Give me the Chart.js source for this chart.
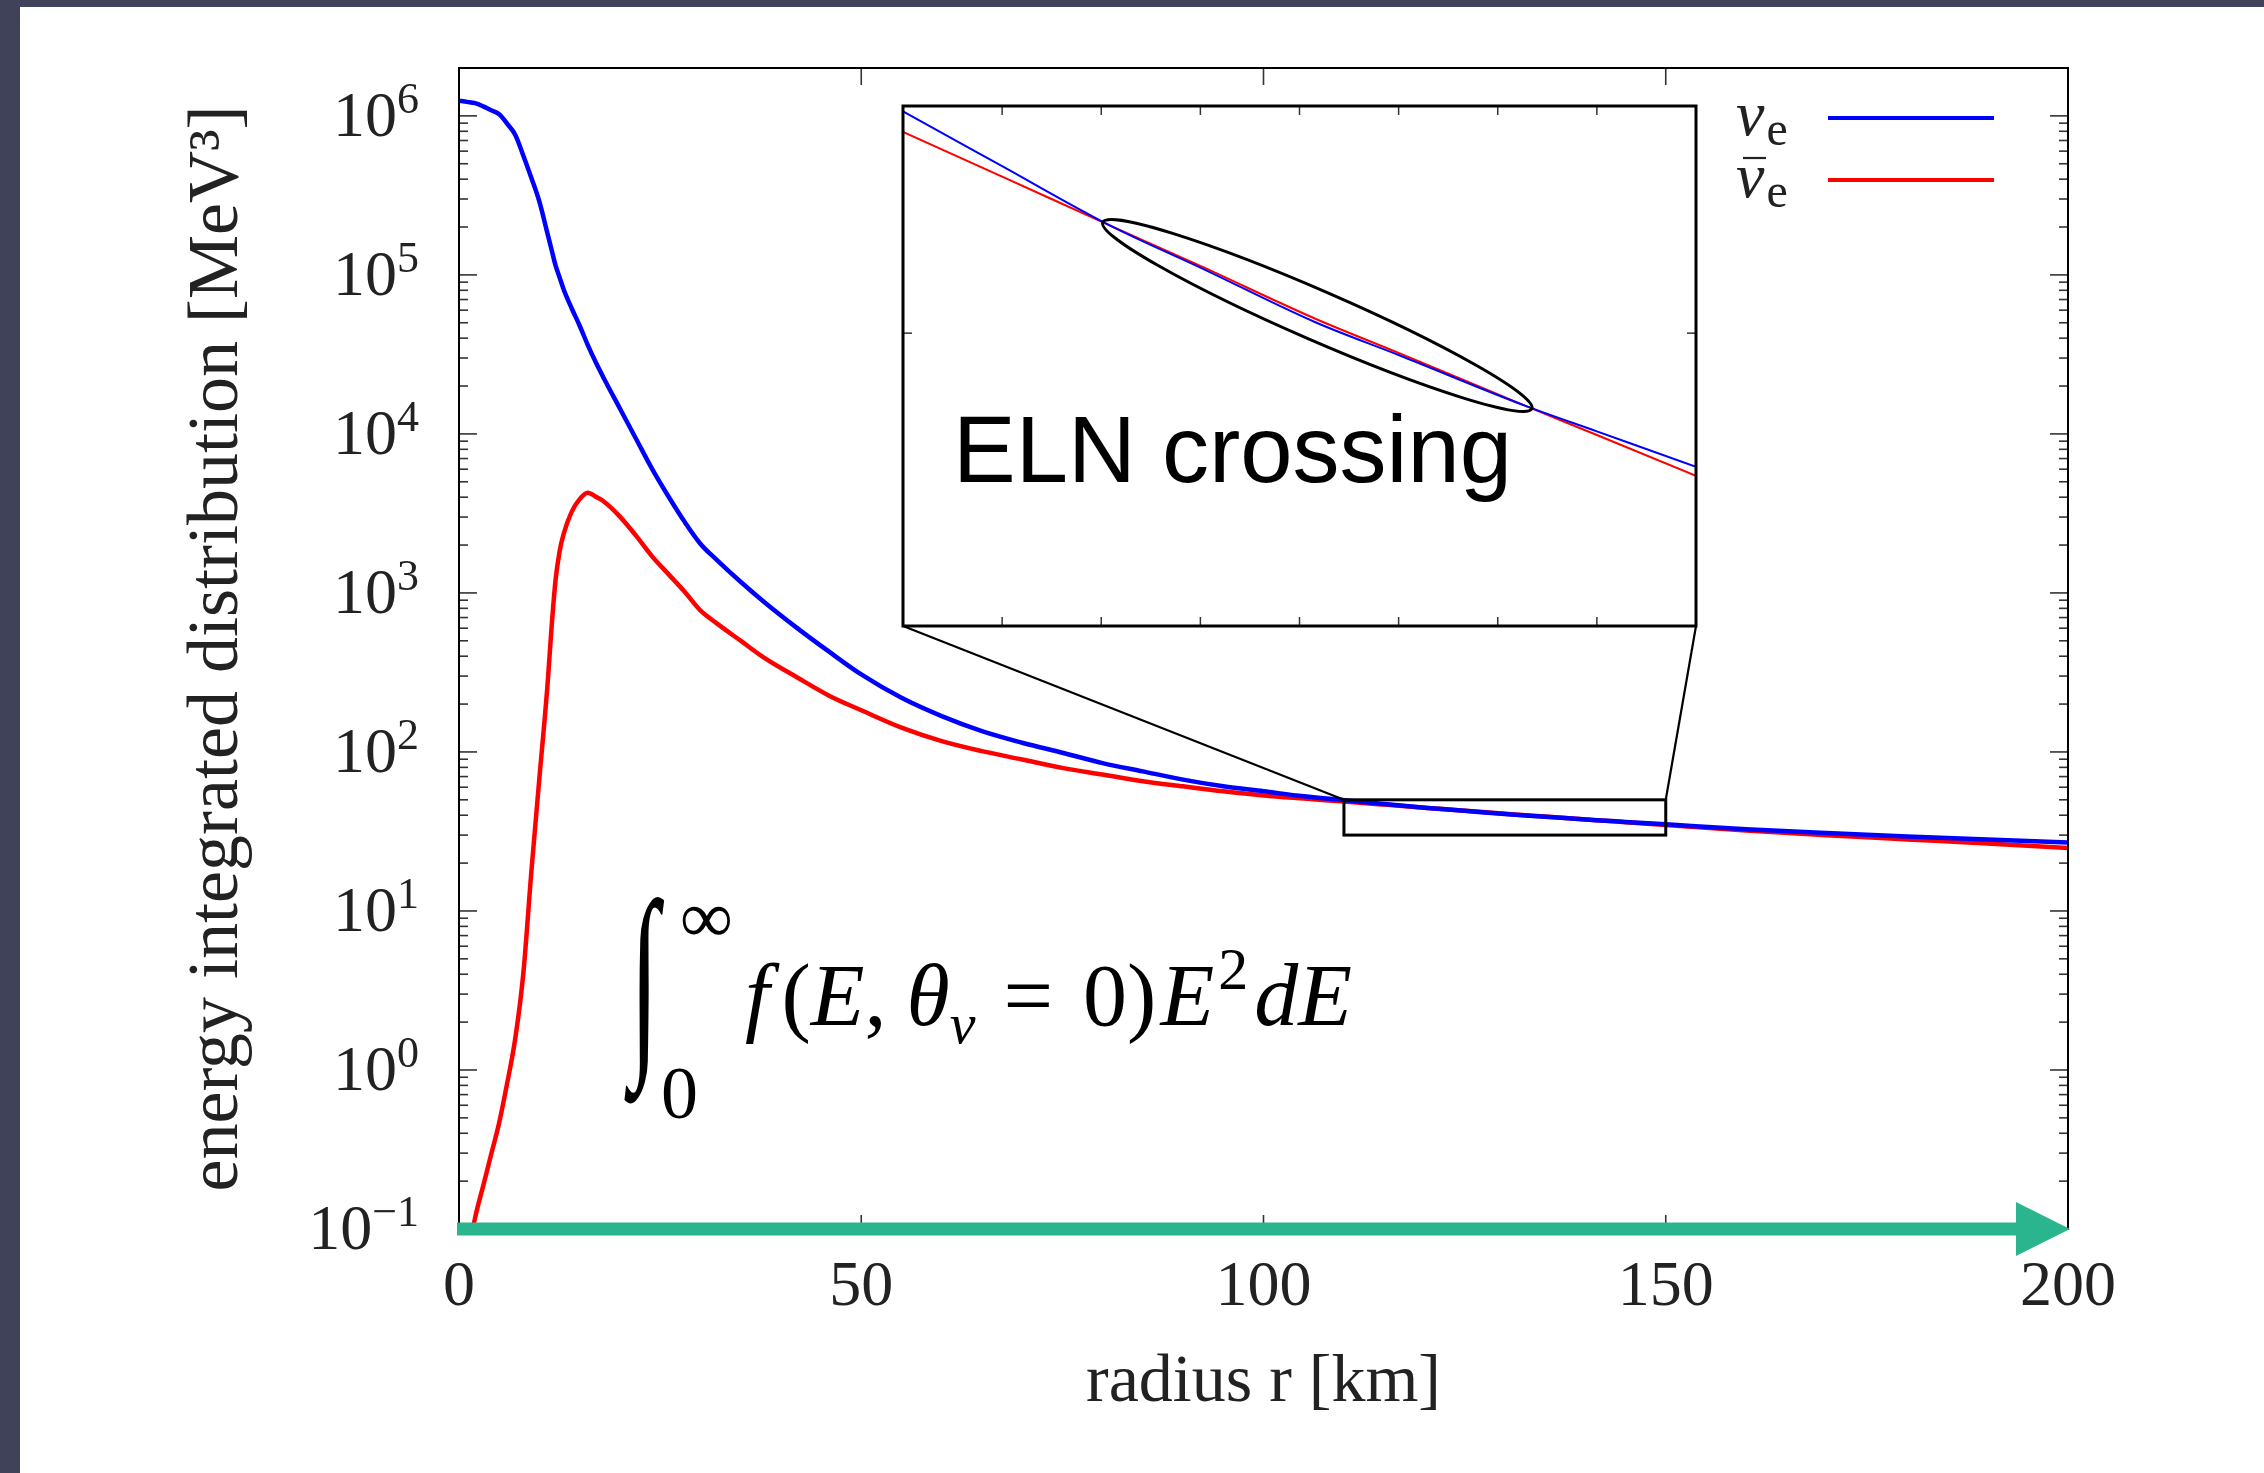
<!DOCTYPE html>
<html>
<head>
<meta charset="utf-8">
<title>energy integrated distribution</title>
<script src="https://cdn.jsdelivr.net/npm/chart.js@4.4.1/dist/chart.umd.min.js"></script>
<style>
  html, body { margin: 0; padding: 0; }
  body { width: 2264px; height: 1473px; overflow: hidden; background: #3f4258; position: relative; }
  #sheet { position: absolute; left: 20px; top: 7px; right: 0; bottom: 0; background: #fff; }
  #mainChart { position: absolute; left: 0; top: 0; }
  #insetChart { position: absolute; left: 893px; top: 96px; }
</style>
</head>
<body>
<div id="sheet"></div>
<canvas id="mainChart" width="2264" height="1473"></canvas>
<canvas id="insetChart" width="813" height="540"></canvas>
<script>
(function () {
  "use strict";

  // radius r [km]
  const radius = [0, 1, 2, 3, 4, 5, 6, 7, 8, 9, 10, 11, 11.5, 12, 12.5, 13, 14, 15, 16, 17, 18,
    20, 22, 24, 26, 28, 30, 32, 35, 38, 42, 46, 50, 55, 60, 65, 70, 75, 80, 85, 90, 95, 100, 105,
    110, 115, 120.4, 125, 130.8, 135, 141.4, 145, 150, 160, 170, 180, 190, 200];

  // nu_e, MeV^3
  const nuE = [1.245e6, 1.225e6, 1.202e6, 1.148e6, 1.084e6, 1.023e6, 8.91e5, 7.59e5, 5.62e5, 4.07e5,
    2.88e5, 1.82e5, 1.445e5, 1.148e5, 9.66e4, 8.13e4, 6.17e4, 4.79e4, 3.63e4, 2.82e4, 2.24e4,
    1.445e4, 9330, 6030, 4070, 2820, 2040, 1620, 1175, 871, 603, 427, 307, 219, 168, 135.2, 114.3,
    98.9, 85.1, 75.5, 67.0, 60.8, 56.6, 52.6,
    49.74, 47.13, 44.48, 42.66, 40.43, 39.15, 37.24, 36.32, 35.08, 32.66, 30.90, 29.44, 28.12, 26.92];

  // anti nu_e, MeV^3
  const nuEBar = [0.02, 0.063, 0.1175, 0.186, 0.295, 0.468, 0.832, 1.585, 4.07, 17.8,
    69.2, 263, 603, 1202, 1820, 2344, 3236, 3890, 4266, 4027, 3758,
    3020, 2291, 1698, 1318, 1023, 776, 646, 501, 389, 295, 226, 183, 142.2, 117.0, 101.2, 89.7,
    79.4, 72.1, 65.5, 60.8, 56.6, 53.3, 50.9,
    48.74, 46.65, 44.48, 42.73, 40.57, 39.23, 37.24, 36.19, 34.77, 32.06, 29.92, 28.18, 26.55, 24.89];

  const seriesLabels = ["\u03BD\u2091", "\u03BD\u0304\u2091"];
  const seriesColors = ["#0000ff", "#ff0000"];

  const xTickValues = [0, 50, 100, 150, 200];
  const yTickValues = [0.1, 1, 10, 100, 1000, 1e4, 1e5, 1e6];
  const yTickExponents = ["\u22121", "0", "1", "2", "3", "4", "5", "6"];

  const insetXTicks = [110, 115, 120, 125, 130, 135, 140, 145, 150];
  const insetYTicks = [30, 40, 50];

  const xRange = [0, 200];
  const yRange = [0.1, 2e6];
  const zoomX = [110, 150];
  const zoomY = [30, 50];

  const SERIF = "'Liberation Serif', 'DejaVu Serif', serif";
  const INK = "#222";
  const ARROW = "#2bb58f";
  const AREA = {left: 459, top: 68, right: 2068, bottom: 1229};

  Chart.defaults.font.family = SERIF;
  Chart.defaults.color = INK;

  function points(values) {
    return radius.map((r, i) => ({x: r, y: values[i]}));
  }

  function datasets(width) {
    return [nuE, nuEBar].map((values, i) => ({
      label: seriesLabels[i],
      data: points(values),
      borderColor: seriesColors[i],
      backgroundColor: seriesColors[i],
      borderWidth: width,
      pointRadius: 0,
      cubicInterpolationMode: "monotone",
    }));
  }

  function tick(ctx, x1, y1, x2, y2) {
    ctx.beginPath();
    ctx.moveTo(x1, y1);
    ctx.lineTo(x2, y2);
    ctx.stroke();
  }

  function drawRuns(ctx, runs, x, baseline) {
    runs.forEach((run) => {
      ctx.font = run.font;
      ctx.fillText(run.t, x + (run.dx || 0), baseline + (run.dy || 0));
      x += ctx.measureText(run.t).width + (run.dx || 0) + (run.after || 0);
    });
    return x;
  }

  // ---- inset ----
  const insetDecor = {
    id: "insetDecor",
    beforeDraw(chart) {
      const {ctx, chartArea: a} = chart;
      ctx.save();
      ctx.fillStyle = "#fff";
      ctx.fillRect(a.left, a.top, a.right - a.left, a.bottom - a.top);
      ctx.restore();
    },
    afterDraw(chart) {
      const {ctx, chartArea: a, scales: {x, y}} = chart;
      ctx.save();
      ctx.strokeStyle = "#333";
      ctx.lineWidth = 1.5;
      insetXTicks.slice(1, -1).forEach((v) => {
        const px = x.getPixelForValue(v);
        tick(ctx, px, a.bottom, px, a.bottom - 9);
        tick(ctx, px, a.top, px, a.top + 9);
      });
      insetYTicks.slice(1, -1).forEach((v) => {
        const py = y.getPixelForValue(v);
        tick(ctx, a.left, py, a.left + 9, py);
        tick(ctx, a.right, py, a.right - 9, py);
      });

      ctx.strokeStyle = "#000";
      ctx.lineWidth = 3;
      ctx.strokeRect(a.left, a.top, a.right - a.left, a.bottom - a.top);

      // ellipse round the two crossings
      const cross = [];
      radius.forEach((r, i) => {
        if (r > zoomX[0] && r < zoomX[1] && nuE[i] === nuEBar[i]) {
          cross.push({x: x.getPixelForValue(r), y: y.getPixelForValue(nuE[i])});
        }
      });
      if (cross.length === 2) {
        const cx = (cross[0].x + cross[1].x) / 2;
        const cy = (cross[0].y + cross[1].y) / 2;
        const half = Math.hypot(cross[1].x - cross[0].x, cross[1].y - cross[0].y) / 2;
        const ang = Math.atan2(cross[1].y - cross[0].y, cross[1].x - cross[0].x);
        ctx.lineWidth = 3;
        ctx.beginPath();
        ctx.ellipse(cx, cy, half + 7, 25, ang, 0, Math.PI * 2);
        ctx.stroke();
      }

      ctx.fillStyle = "#000";
      ctx.font = "94px 'Liberation Sans', Arial, sans-serif";
      ctx.textBaseline = "alphabetic";
      ctx.fillText("ELN crossing", a.left + 50, a.top + 376);
      ctx.restore();
    },
  };

  const insetChart = new Chart(document.getElementById("insetChart"), {
    type: "line",
    data: {datasets: datasets(2)},
    options: {
      responsive: false,
      animation: false,
      events: [],
      layout: {padding: 10},
      plugins: {legend: {display: false}, tooltip: {enabled: false}},
      scales: {
        x: {type: "linear", min: zoomX[0], max: zoomX[1], display: false},
        y: {type: "logarithmic", min: zoomY[0], max: zoomY[1], display: false},
      },
    },
    plugins: [insetDecor],
  });

  // ---- main ----
  const mainDecor = {
    id: "mainDecor",
    afterDraw(chart) {
      const {ctx, chartArea: a, scales: {x, y}} = chart;
      ctx.save();

      // ticks on all four sides
      ctx.strokeStyle = "#333";
      ctx.lineWidth = 1.6;
      yTickValues.forEach((v) => {
        const py = y.getPixelForValue(v);
        tick(ctx, a.left, py, a.left + 18, py);
        tick(ctx, a.right, py, a.right - 18, py);
        for (let m = 2; m <= 9; m++) {
          const mv = v * m;
          if (mv >= y.max) break;
          const pm = y.getPixelForValue(mv);
          tick(ctx, a.left, pm, a.left + 9, pm);
          tick(ctx, a.right, pm, a.right - 9, pm);
        }
      });
      xTickValues.slice(1, -1).forEach((v) => {
        const px = x.getPixelForValue(v);
        tick(ctx, px, a.bottom, px, a.bottom - 14);
        tick(ctx, px, a.top, px, a.top + 17);
      });

      // y tick labels 10^k
      ctx.fillStyle = INK;
      ctx.textBaseline = "alphabetic";
      ctx.textAlign = "right";
      yTickValues.forEach((v, i) => {
        const py = y.getPixelForValue(v);
        const right = a.left - 40;
        ctx.font = "44px " + SERIF;
        const ew = ctx.measureText(yTickExponents[i]).width;
        ctx.fillText(yTickExponents[i], right, py - 3);
        ctx.font = "64px " + SERIF;
        ctx.fillText("10", right - ew, py + 20);
      });
      ctx.textAlign = "left";

      ctx.strokeStyle = "#000";
      ctx.lineWidth = 2;
      ctx.strokeRect(a.left, a.top, a.right - a.left, a.bottom - a.top);

      // zoom box and the lines to the inset
      const bx1 = x.getPixelForValue(zoomX[0]);
      const bx2 = x.getPixelForValue(zoomX[1]);
      const by1 = y.getPixelForValue(zoomY[1]);
      const by2 = y.getPixelForValue(zoomY[0]);
      ctx.lineWidth = 3;
      ctx.strokeRect(bx1, by1, bx2 - bx1, by2 - by1);

      const ic = insetChart.chartArea;
      const ox = insetChart.canvas.offsetLeft;
      const oy = insetChart.canvas.offsetTop;
      ctx.lineWidth = 2.2;
      tick(ctx, ox + ic.left, oy + ic.bottom, bx1, by1);
      tick(ctx, ox + ic.right, oy + ic.bottom, bx2, by1);

      // legend
      const legendRows = [118, 180];
      legendRows.forEach((ly, i) => {
        ctx.strokeStyle = seriesColors[i];
        ctx.lineWidth = 4;
        tick(ctx, 1828, ly, 1994, ly);
        ctx.fillStyle = INK;
        drawRuns(ctx, [
          {t: "\u03BD", font: "italic 64px " + SERIF, after: 2},
          {t: "e", font: "48px " + SERIF, dy: 10},
        ], 1736, ly + 17);
        if (i === 1) {
          ctx.strokeStyle = INK;
          ctx.lineWidth = 2.2;
          tick(ctx, 1743, ly - 22, 1766, ly - 22);
        }
      });

      // formula
      ctx.fillStyle = "#000";
      ctx.save();
      ctx.translate(630, 1047);
      ctx.scale(0.5, 1);
      ctx.font = "210px " + SERIF;
      ctx.fillText("\u222B", 0, 0);
      ctx.restore();
      ctx.font = "74px " + SERIF;
      ctx.fillText("\u221E", 680, 942);
      ctx.fillText("0", 661, 1118);
      const it = "italic 88px " + SERIF;
      const up = "88px " + SERIF;
      drawRuns(ctx, [
        {t: "f", font: it, after: 12},
        {t: "(", font: up},
        {t: "E", font: it},
        {t: ",", font: up, after: 20},
        {t: "\u03B8", font: it},
        {t: "\u03BD", font: "italic 58px " + SERIF, dy: 18, after: 28},
        {t: "=", font: up, after: 30},
        {t: "0", font: up},
        {t: ")", font: up, after: 4},
        {t: "E", font: it, after: 4},
        {t: "2", font: "60px " + SERIF, dy: -36, after: 6},
        {t: "dE", font: it},
      ], 745, 1025);

      // arrow along the radius axis
      const x0 = x.getPixelForValue(xRange[0]) - 2;
      const tip = x.getPixelForValue(xRange[1]) + 2;
      const cy = a.bottom;
      ctx.fillStyle = ARROW;
      ctx.fillRect(x0, cy - 6.5, tip - 53 - x0, 13);
      ctx.beginPath();
      ctx.moveTo(tip, cy);
      ctx.lineTo(tip - 54, cy - 27);
      ctx.lineTo(tip - 54, cy + 27);
      ctx.closePath();
      ctx.fill();

      ctx.restore();
    },
  };

  const mainChart = new Chart(document.getElementById("mainChart"), {
    type: "line",
    data: {datasets: datasets(4.5)},
    options: {
      responsive: false,
      animation: false,
      events: [],
      layout: {padding: {top: AREA.top, right: 2264 - AREA.right, left: 0, bottom: 0}},
      plugins: {legend: {display: false}, tooltip: {enabled: false}},
      scales: {
        x: {
          type: "linear",
          min: xRange[0],
          max: xRange[1],
          afterBuildTicks: (s) => { s.ticks = xTickValues.map((v) => ({value: v})); },
          afterFit: (s) => { s.height = 1473 - AREA.bottom; },
          grid: {display: false, drawTicks: false},
          border: {display: false},
          ticks: {font: {size: 64}, color: INK, padding: 21, maxRotation: 0},
          title: {display: true, text: "radius r [km]", font: {size: 68}, color: INK, padding: {top: 0, bottom: 49}},
        },
        y: {
          type: "logarithmic",
          min: yRange[0],
          max: yRange[1],
          afterBuildTicks: (s) => { s.ticks = yTickValues.map((v) => ({value: v})); },
          afterFit: (s) => { s.width = AREA.left; },
          grid: {display: false, drawTicks: false},
          border: {display: false},
          ticks: {display: false},
          title: {display: true, text: "energy integrated distribution [MeV\u00B3]", font: {size: 72}, color: INK, padding: {top: 175, bottom: 0}},
        },
      },
    },
    plugins: [mainDecor],
  });

  // keep the plot box where the figure has it
  const ca = mainChart.chartArea;
  const pad = mainChart.options.layout.padding;
  if (Math.abs(ca.top - AREA.top) > 0.5 || Math.abs(ca.right - AREA.right) > 0.5) {
    pad.top += AREA.top - ca.top;
    pad.right += ca.right - AREA.right;
    mainChart.update();
  }
})();
</script>
</body>
</html>
